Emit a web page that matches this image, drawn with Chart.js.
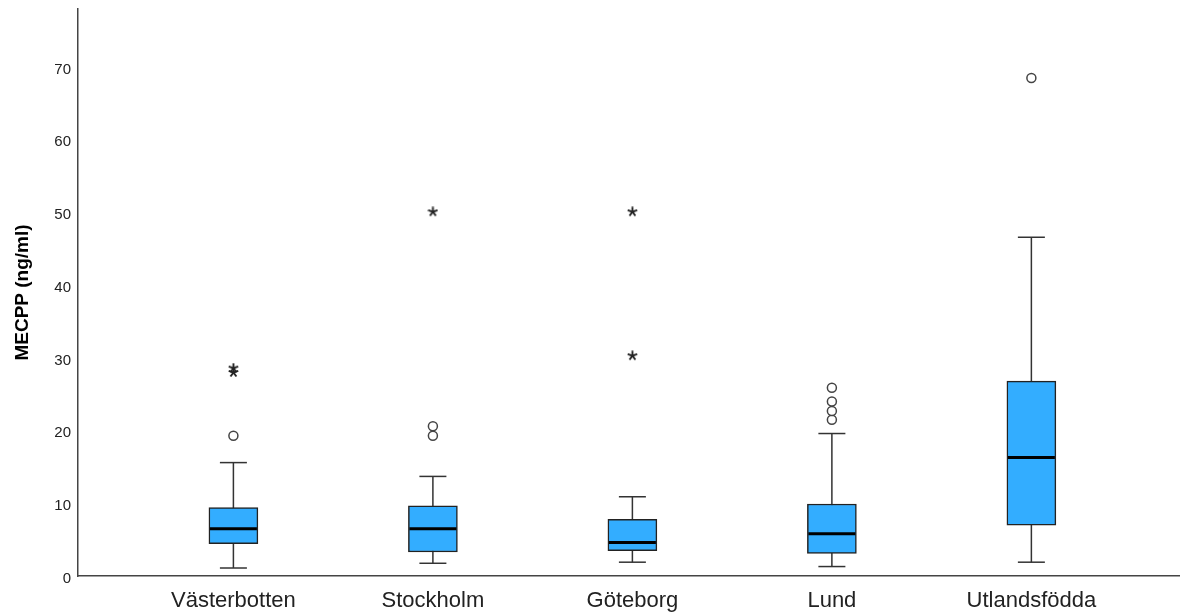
<!DOCTYPE html>
<html>
<head>
<meta charset="utf-8">
<script src="https://cdn.jsdelivr.net/npm/chart.js@4.4.1/dist/chart.umd.min.js"></script>
<style>
  html, body { margin: 0; padding: 0; background: #fff; }
  #wrap { width: 1180px; height: 612px; }
</style>
</head>
<body>
<div id="wrap"><canvas id="myChart" width="1180" height="612"></canvas></div>
<script>
// boxplot values
var categories = ["Västerbotten", "Stockholm", "Göteborg", "Lund", "Utlandsfödda"];
var whiskerLow = [1.1, 1.75, 1.9, 1.3, 1.9];
var q1 = [4.45, 3.3, 3.5, 3.1, 7.0];
var median = [6.5, 6.5, 4.6, 5.8, 16.3];
var q3 = [9.4, 9.65, 7.8, 9.9, 26.8];
var whiskerHigh = [15.6, 13.7, 10.9, 19.6, 46.6];
var outliers = [[19.3], [19.3, 20.6], [], [21.5, 22.7, 24.0, 25.9], [68.5]];
var extremes = [[28.0, 28.6], [50.1], [30.3, 50.1], [], []];
var yTicks = [0, 10, 20, 30, 40, 50, 60, 70];

var boxData = [];
var whiskerData = [];
var capData = [];
var medianData = [];
var outlierData = [];
var extremeData = [];

categories.forEach(function (name, i) {
  boxData.push({ x: i, y: [q1[i], q3[i]] });
  whiskerData.push({ x: i, y: whiskerLow[i] });
  whiskerData.push({ x: i, y: whiskerHigh[i] });
  whiskerData.push({ x: i, y: null });
  capData.push({ x: i, y: whiskerLow[i] });
  capData.push({ x: i, y: whiskerHigh[i] });
  medianData.push({ x: i, y: median[i] });
  outliers[i].forEach(function (v) {
    outlierData.push({ x: i, y: v });
  });
  extremes[i].forEach(function (v) {
    extremeData.push({ x: i, y: v });
  });
});

// five-spoke asterisk like the SPSS extreme marker
var star = document.createElement("canvas");
star.width = 11;
star.height = 11;
var sctx = star.getContext("2d");
sctx.strokeStyle = "#222";
sctx.lineWidth = 1.9;
sctx.lineCap = "butt";
for (var k = 0; k < 5; k++) {
  var a = -Math.PI / 2 + (k * 2 * Math.PI) / 5;
  sctx.beginPath();
  sctx.moveTo(5.5, 5.5);
  sctx.lineTo(5.5 + Math.cos(a) * 5, 5.5 + Math.sin(a) * 5);
  sctx.stroke();
}

var font = "'Liberation Sans', Arial, sans-serif";

new Chart("myChart", {
  type: "bar",
  data: {
    datasets: [
      {
        type: "scatter",
        data: medianData,
        pointStyle: "line",
        pointRadius: 23.5,
        borderColor: "#000",
        borderWidth: 3,
        order: 1,
      },
      {
        type: "scatter",
        data: outlierData,
        pointStyle: "circle",
        pointRadius: 4.5,
        borderColor: "#444",
        backgroundColor: "#fff",
        borderWidth: 1.5,
        order: 1,
      },
      {
        type: "scatter",
        data: extremeData,
        pointStyle: star,
        order: 1,
      },
      {
        type: "bar",
        data: boxData,
        barThickness: 49,
        backgroundColor: "#33adff",
        borderColor: "#222",
        borderWidth: 1.5,
        borderSkipped: false,
        order: 2,
      },
      {
        type: "scatter",
        data: capData,
        pointStyle: "line",
        pointRadius: 13.5,
        borderColor: "#333",
        borderWidth: 1.5,
        order: 3,
      },
      {
        type: "line",
        data: whiskerData,
        borderColor: "#333",
        borderWidth: 1.5,
        pointRadius: 0,
        spanGaps: false,
        order: 3,
      },
    ],
  },
  options: {
    responsive: false,
    animation: false,
    events: [],
    layout: { autoPadding: false, padding: { top: 9, right: 0, left: 0, bottom: 0 } },
    plugins: {
      legend: { display: false },
      tooltip: { enabled: false },
    },
    scales: {
      x: {
        type: "linear",
        offset: false,
        min: -0.779,
        max: 4.745,
        afterBuildTicks: function (scale) {
          scale.ticks = categories.map(function (c, i) {
            return { value: i };
          });
        },
        afterFit: function (scale) {
          scale.height = 36;
          scale.paddingLeft = 0;
          scale.paddingRight = 0;
        },
        grid: { display: false, drawTicks: false },
        border: { display: true, color: "#444", width: 1.5 },
        ticks: {
          padding: 12,
          color: "#222",
          font: { family: font, size: 22 },
          maxRotation: 0,
          autoSkip: false,
          callback: function (value) {
            return categories[value];
          },
        },
      },
      y: {
        min: 0,
        max: 78,
        afterBuildTicks: function (scale) {
          scale.ticks = yTicks.map(function (v) {
            return { value: v };
          });
        },
        afterFit: function (scale) {
          scale.width = 78;
          scale.paddingTop = 0;
          scale.paddingBottom = 0;
        },
        grid: { display: false, drawTicks: false },
        border: { display: true, color: "#444", width: 1.5 },
        ticks: {
          padding: 7,
          labelOffset: 2.5,
          color: "#222",
          font: { family: font, size: 15 },
        },
        title: {
          display: true,
          text: "MECPP (ng/ml)",
          color: "#000",
          font: { family: font, size: 19, weight: "bold" },
          padding: { top: 11, bottom: 0 },
        },
      },
    },
  },
});
</script>
</body>
</html>
